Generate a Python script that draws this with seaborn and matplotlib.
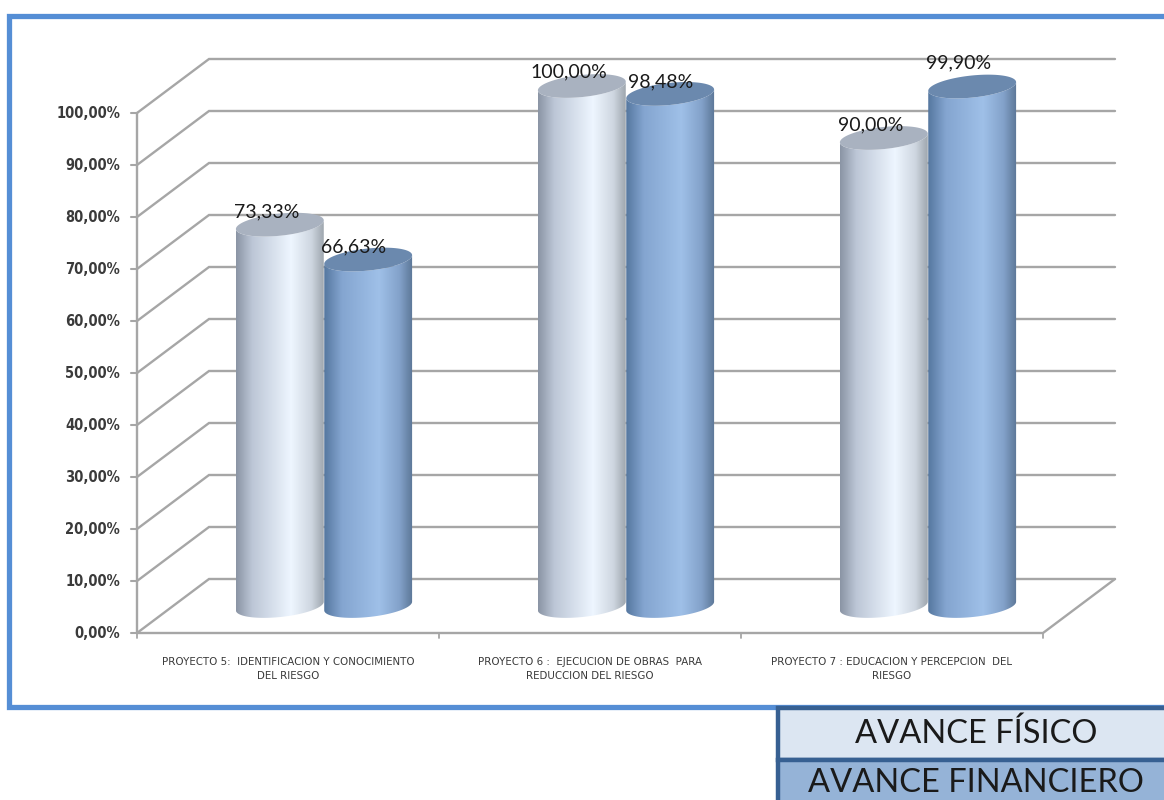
import numpy as np
import pandas as pd
import matplotlib
matplotlib.use("Agg")
import matplotlib.pyplot as plt
import seaborn as sns
from matplotlib.colors import LinearSegmentedColormap
from matplotlib.path import Path
from matplotlib.patches import Rectangle

# =========================================================
# DATA
# =========================================================
proyectos = [
    "PROYECTO 5:  IDENTIFICACION Y CONOCIMIENTO\nDEL RIESGO",
    "PROYECTO 6 :  EJECUCION DE OBRAS  PARA\nREDUCCION DEL RIESGO",
    "PROYECTO 7 : EDUCACION Y PERCEPCION  DEL\nRIESGO",
]
avance_fisico = [73.33, 100.00, 90.00]
avance_financiero = [66.63, 98.48, 99.90]
y_ticks = [0, 10, 20, 30, 40, 50, 60, 70, 80, 90, 100]
series = ["AVANCE FÍSICO", "AVANCE FINANCIERO"]

# =========================================================
# LAYOUT (pixels of the 1164x800 picture)
# =========================================================
W, H = 1164, 800
PX_CAT = 302.0     # width of a category
PX_UNIT = 5.2      # pixels per percentage point
X0, Y0 = 173.0, 606.0   # left end / zero level of the plane holding the bars
DX = 36 / PX_CAT   # half the depth of the floor
DY = 27 / PX_UNIT
GRID = "#a6a6a6"
TEXT = "#3a3a3a"

sns.set_style("white")
plt.rcParams["font.family"] = ["Lato", "DejaVu Sans"]

fig = plt.figure(figsize=(W / 100, H / 100), dpi=100)
fig.patch.set_facecolor("white")

# frame and legend boxes, in pixels
bg = fig.add_axes([0, 0, 1, 1], zorder=0)
bg.set_xlim(0, W)
bg.set_ylim(H, 0)
bg.axis("off")
bg.add_patch(Rectangle((8.5, 15.5), W, 691, fc="white", ec="#558ed5", lw=3.8))
bg.add_patch(Rectangle((778, 708), W, 52, fc="#dce6f2", ec="#376092", lw=3.2, zorder=3))
bg.add_patch(Rectangle((778, 760), W, 60, fc="#95b3d7", ec="#376092", lw=3.2, zorder=3))
bg.text(976, 734, series[0], fontsize=23.5, ha="center", va="center", color="#1a1a1a", zorder=4)
bg.text(976, 783, series[1], fontsize=23.5, ha="center", va="center", color="#1a1a1a", zorder=4)

# chart axes fill the figure, scaled so the data lands on the right pixels
ax = fig.add_axes([0, 0, 1, 1], zorder=1)
ax.patch.set_alpha(0)

df = pd.DataFrame({
    "proyecto": proyectos * 2,
    "avance": avance_fisico + avance_financiero,
    "serie": [series[0]] * 3 + [series[1]] * 3,
})
sns.barplot(data=df, x="proyecto", y="avance", hue="serie", hue_order=series,
            width=0.585, gap=0, legend=False, ax=ax)

xlim = (-0.5 - X0 / PX_CAT, -0.5 + (W - X0) / PX_CAT)
ylim = ((Y0 - H) / PX_UNIT, Y0 / PX_UNIT)

# =========================================================
# WALLS AND GRID
# =========================================================
x_left, x_right = -0.5, 2.5
for v in y_ticks:
    ax.plot([x_left - DX, x_left + DX, x_right + DX], [v - DY, v + DY, v + DY],
            color=GRID, lw=1.7, zorder=1, solid_joinstyle="miter")
    ax.plot([x_left - DX - 6 / PX_CAT, x_left - DX], [v - DY, v - DY], color=GRID, lw=1.5, zorder=1)
    bg.text(120, Y0 + DY * PX_UNIT - v * PX_UNIT, f"{v:.2f}%".replace(".", ","),
            ha="right", va="center", fontsize=10.5, fontweight="bold", color=TEXT,
            family="DejaVu Sans", stretch="condensed")
ax.plot([x_left - DX, x_left - DX], [-DY, 100 - DY], color=GRID, lw=1.7, zorder=1)
ax.plot([x_left - DX, x_right - DX, x_right + DX], [-DY, -DY, DY], color=GRID, lw=1.7, zorder=1)
for i in range(4):
    xt = x_left - DX + i
    ax.plot([xt, xt], [-DY, -DY - 5 / PX_UNIT], color=GRID, lw=1.3, zorder=1)

# =========================================================
# CYLINDERS
# =========================================================
cmap_fisico = LinearSegmentedColormap.from_list(
    "fisico", [(0, "#8a94a4"), (0.18, "#bcc6d6"), (0.62, "#eef6ff"), (0.85, "#ced6e0"), (1, "#9aa2aa")])
cmap_financiero = LinearSegmentedColormap.from_list(
    "financiero", [(0, "#55779f"), (0.2, "#84a5d0"), (0.62, "#9fc0e8"), (0.85, "#83a2ca"), (1, "#5b7696")])
top_colors = ["#a9b2c0", "#6b89ae"]
gradient = np.linspace(0, 1, 256).reshape(1, -1)
B_PX, TILT = 11.0, np.deg2rad(6)


def rim(cx, level, half_w, t):
    # ellipse outline in data units, tilted in picture space
    a = half_w * PX_CAT
    ex = a * np.cos(t) * np.cos(TILT) - B_PX * np.sin(t) * np.sin(TILT)
    ey = a * np.cos(t) * np.sin(TILT) + B_PX * np.sin(t) * np.cos(TILT)
    return cx + ex / PX_CAT, level + ey / PX_UNIT


lower = np.linspace(np.pi, 2 * np.pi, 60)
full = np.linspace(0, 2 * np.pi, 120)
label_offsets = [[(-13, 13), (-15, 13)], [(-13, 14), (-10, 12)], [(-13, 13), (-14, 24)]]

for s, (container, cmap) in enumerate(zip(ax.containers, [cmap_fisico, cmap_financiero])):
    for g, bar in enumerate(container):
        z = 3 + g * 2 + s * 0.5
        half_w = bar.get_width() / 2
        cx = bar.get_x() + half_w
        top = bar.get_height()
        bar.set_alpha(0)

        bx, by = rim(cx, 0, half_w, lower)
        tx, ty = rim(cx, top, half_w, lower[::-1])
        body = Path(np.column_stack([np.r_[bx, tx], np.r_[by, ty]]))
        im = ax.imshow(gradient, cmap=cmap, aspect="auto", zorder=z, interpolation="bilinear",
                       extent=(cx - half_w, cx + half_w, -5, top + 5))
        im.set_clip_path(body, ax.transData)

        ex, ey = rim(cx, top, half_w, full)
        ax.fill(ex, ey, color=top_colors[s], lw=0, zorder=z + 0.1)

        off = label_offsets[g][s]
        ax.annotate(f"{top:.2f}%".replace(".", ","), (cx, top),
                    xytext=(off[0], off[1]), textcoords="offset pixels",
                    ha="center", va="center", fontsize=14, color="#1a1a1a", zorder=20)

# =========================================================
# CATEGORY LABELS
# =========================================================
for i, name in enumerate(proyectos):
    ax.text(i - DX, -DY - 36 / PX_UNIT, name, ha="center", va="center", fontsize=7.4,
            color=TEXT, linespacing=1.5, family="DejaVu Sans")

ax.set_xlim(*xlim)
ax.set_ylim(*ylim)
ax.axis("off")

fig.savefig("out.png", dpi=100)
